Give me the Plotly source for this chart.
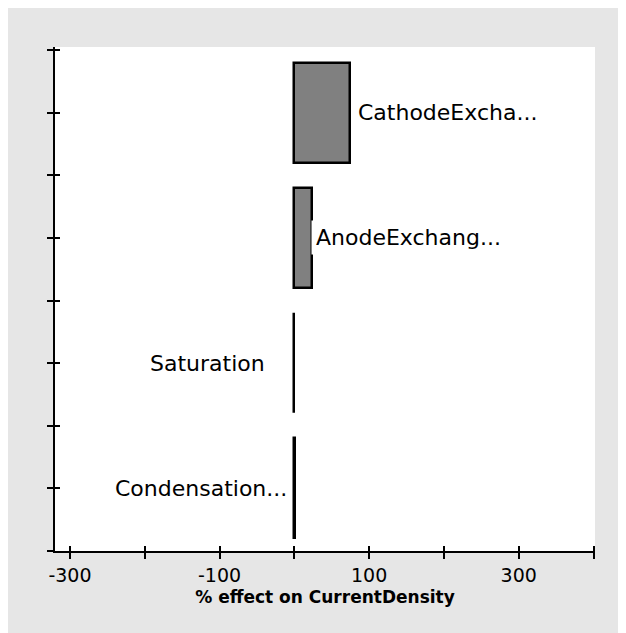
import plotly.graph_objects as go

# data (bottom to top)
params = ["Condensation...", "Saturation", "AnodeExchang...", "CathodeExcha..."]
effects = [0.8, -0.8, 23, 74]
positions = [1, 3, 5, 7]
x_ticks = [-300, -200, -100, 0, 100, 200, 300, 400]
x_ticktext = ["-300", "", "-100", "", "100", "", "300", ""]


def main():
    fig = go.Figure()

    fig.add_trace(go.Bar(
        x=effects,
        y=positions,
        base=0,
        orientation="h",
        width=1.6,
        marker=dict(color="#808080", line=dict(color="black", width=2.5)),
        hoverinfo="x",
        showlegend=False,
    ))
    # empty trace so the overlay axes (inside ticks) get drawn
    fig.add_trace(go.Scatter(x=[None], y=[None], xaxis="x2", yaxis="y2",
                             showlegend=False, hoverinfo="skip"))

    # bar labels, white boxes sitting over the bars
    shifts = [-2, -24, -1, 3]
    for name, val, pos, sh in zip(params, effects, positions, shifts):
        fig.add_annotation(
            x=0 if val < 5 else val, y=pos, text=name, showarrow=False,
            xanchor="right" if sh < -1 else "left", xshift=sh,
            bgcolor="white", borderpad=4,
            font=dict(family="DejaVu Sans, sans-serif", size=22, color="black"),
        )

    axis_common = dict(showline=True, linecolor="black", linewidth=2,
                       ticks="outside", ticklen=6, tickwidth=2, tickcolor="black",
                       showgrid=False, zeroline=False)
    fig.update_layout(
        width=626, height=633,
        paper_bgcolor="#e6e6e6", plot_bgcolor="white",
        margin=dict(l=47, r=39, t=39, b=90),
        bargap=0,
        xaxis=dict(range=[-320, 402], tickvals=x_ticks, ticktext=x_ticktext,
                   tickfont=dict(family="DejaVu Sans, sans-serif", size=19, color="black"),
                   title=dict(text="<b>% effect on CurrentDensity</b>", standoff=6,
                              font=dict(family="DejaVu Sans, sans-serif", size=17, color="black")),
                   **axis_common),
        yaxis=dict(range=[0, 8.05], tickvals=list(range(9)), showticklabels=False,
                   **axis_common),
        xaxis2=dict(overlaying="x", anchor="y2", side="bottom", range=[-320, 402],
                    tickvals=x_ticks, showticklabels=False, ticks="inside", ticklen=5,
                    tickwidth=2, tickcolor="black", showgrid=False, zeroline=False),
        yaxis2=dict(overlaying="y", anchor="x2", side="left", range=[0, 8.05],
                    tickvals=list(range(9)), showticklabels=False, ticks="inside",
                    ticklen=5, tickwidth=2, tickcolor="black", showgrid=False,
                    zeroline=False),
    )

    fig.write_html("out.html")


if __name__ == "__main__":
    main()
